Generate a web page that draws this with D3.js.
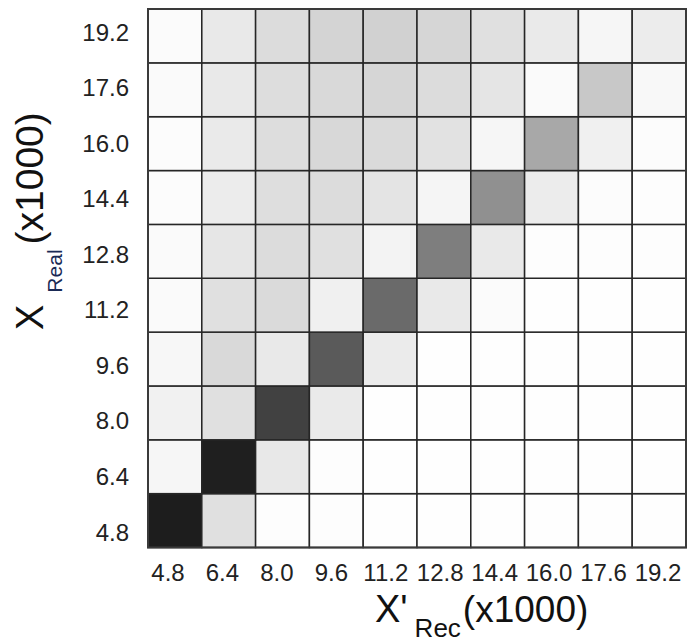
<!DOCTYPE html>
<html>
<head>
<meta charset="utf-8">
<script src="https://cdn.jsdelivr.net/npm/d3@7"></script>
<style>
  html, body { margin: 0; padding: 0; background: #fff; }
  svg { display: block; font-family: "Liberation Sans", Arial, sans-serif; }
</style>
</head>
<body>
<svg id="chart" width="687" height="643"></svg>
<script>
// Category values (x1000) for both axes
const recValues  = ["4.8", "6.4", "8.0", "9.6", "11.2", "12.8", "14.4", "16.0", "17.6", "19.2"];
const realValues = ["4.8", "6.4", "8.0", "9.6", "11.2", "12.8", "14.4", "16.0", "17.6", "19.2"];

// Intensity (%) per cell; one array per real value, columns follow recValues
const row4_8  = [88.6, 12.2, 0.8, 0.8, 0.4, 0.4, 0.4, 0.4, 0.4, 0.4];
const row6_4  = [3.5, 87.8, 9.0, 0.8, 0.4, 0.4, 0.4, 0.4, 0.4, 0.4];
const row8_0  = [5.5, 12.2, 74.5, 8.2, 0.4, 0.4, 0.4, 0.4, 0.4, 0.4];
const row9_6  = [3.1, 14.9, 8.6, 64.7, 7.8, 0.4, 0.4, 0.4, 0.4, 0.4];
const row11_2 = [2.0, 12.2, 14.5, 5.9, 58.4, 8.6, 1.6, 0.4, 0.4, 0.4];
const row12_8 = [2.0, 9.8, 13.7, 12.2, 4.7, 50.6, 8.6, 0.8, 0.8, 0.8];
const row14_4 = [1.2, 7.5, 12.9, 13.7, 10.6, 3.9, 43.5, 7.5, 1.2, 0.8];
const row16_0 = [1.2, 8.2, 13.3, 15.3, 14.5, 11.4, 3.5, 34.1, 5.9, 1.2];
const row17_6 = [2.0, 8.6, 13.3, 14.9, 16.1, 13.7, 10.2, 2.0, 21.6, 2.7];
const row19_2 = [1.6, 8.6, 13.7, 16.9, 18.0, 16.1, 12.2, 8.2, 3.5, 7.5];

const rows = [row4_8, row6_4, row8_0, row9_6, row11_2, row12_8, row14_4, row16_0, row17_6, row19_2];

const cells = [];
rows.forEach((vals, ri) => {
  vals.forEach((v, ci) => cells.push({ real: realValues[ri], rec: recValues[ci], value: v }));
});

const svg = d3.select("#chart");
const plot = { left: 148, right: 686, top: 9, bottom: 547.5 };

const x = d3.scaleBand().domain(recValues).range([plot.left, plot.right]).padding(0);
const y = d3.scaleBand().domain(realValues).range([plot.bottom, plot.top]).padding(0);
const color = d3.scaleLinear().domain([0, 100]).range(["#ffffff", "#000000"]);

// Heatmap cells
svg.append("g")
  .selectAll("rect")
  .data(cells)
  .join("rect")
  .attr("x", d => x(d.rec))
  .attr("y", d => y(d.real))
  .attr("width", x.bandwidth())
  .attr("height", y.bandwidth())
  .attr("fill", d => color(d.value))
  .attr("stroke", "#262626")
  .attr("stroke-width", 1.5);

// Outer frame
svg.append("rect")
  .attr("x", plot.left).attr("y", plot.top)
  .attr("width", plot.right - plot.left).attr("height", plot.bottom - plot.top)
  .attr("fill", "none").attr("stroke", "#3a3a3a").attr("stroke-width", 2);

// Tick label positions
const xLab = d3.scalePoint().domain(recValues).range([167.5, 657.5]);
const yLab = d3.scalePoint().domain(realValues).range([540, 40]);

const xAxis = d3.axisBottom(xLab).tickSize(0).tickPadding(0);
const gx = svg.append("g").attr("transform", "translate(0,581)").call(xAxis);
gx.select(".domain").remove();
gx.selectAll("text")
  .attr("y", 0).attr("dy", 0)
  .attr("fill", "#222")
  .style("font-size", "24px")
  .style("font-family", "'Liberation Sans', Arial, sans-serif");

const yAxis = d3.axisLeft(yLab).tickSize(0).tickPadding(0);
const gy = svg.append("g").attr("transform", "translate(129,0)").call(yAxis);
gy.select(".domain").remove();
gy.selectAll("text")
  .attr("x", 0).attr("dy", 0)
  .attr("fill", "#222")
  .style("font-size", "24px")
  .style("font-family", "'Liberation Sans', Arial, sans-serif");

// X axis title: X'_Rec (x1000)
const xt = svg.append("text")
  .attr("x", 375).attr("y", 622)
  .attr("fill", "#111");
xt.append("tspan").style("font-size", "38px").text("X'");
xt.append("tspan").attr("dx", 7).attr("dy", 15).style("font-size", "26px").text("Rec");
xt.append("tspan").attr("dx", 2).attr("dy", -15).style("font-size", "37px").text("(x1000)");

// Y axis title: X_Real (x1000), rotated
const yt = svg.append("text")
  .attr("transform", "translate(43,330) rotate(-90)")
  .attr("fill", "#111");
yt.append("tspan").style("font-size", "38px").text("X");
yt.append("tspan").attr("dx", 12).attr("dy", 19).style("font-size", "21px").attr("fill", "#1a2a55").text("Real");
yt.append("tspan").attr("dx", 5).attr("dy", -19).style("font-size", "39px").text("(x1000)");
</script>
</body>
</html>
